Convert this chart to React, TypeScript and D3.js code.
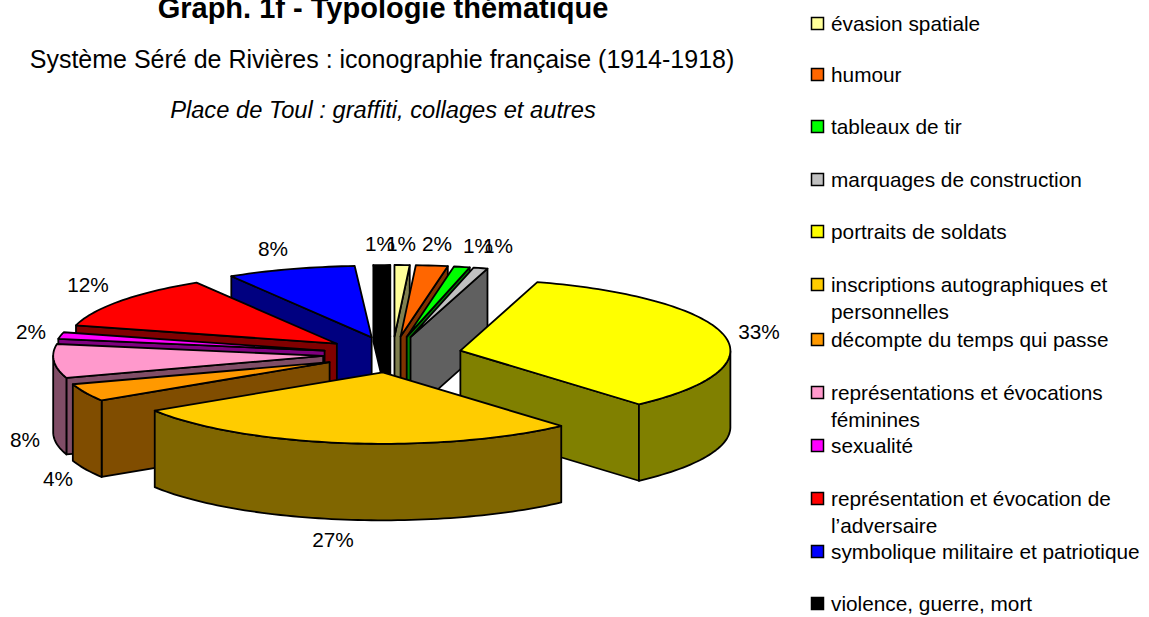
import React from "react";
import * as d3 from "d3";

const categories = ["évasion spatiale","humour","tableaux de tir","marquages de construction","portraits de soldats","inscriptions autographiques et personnelles","décompte du temps qui passe","représentations et évocations féminines","sexualité","représentation et évocation de l’adversaire","symbolique militaire et patriotique","violence, guerre, mort"];
const values = [0.9,1.9,0.95,0.85,33.9,27.5,4,7.65,1.5,12.15,7.7,1];
const percentLabels = ["1%","2%","1%","1%","33%","27%","4%","8%","2%","12%","8%","1%"];
const topColors = ["#ffff99","#ff6600","#00ff00","#c0c0c0","#ffff00","#ffcc00","#ff9900","#ff99cc","#ff00ff","#ff0000","#0000ff","#000000"];
const sideColors = ["#808050","#803300","#008000","#606060","#808000","#806600","#804d00","#804d66","#800080","#800000","#000080","#000000"];
const legendLines = [["évasion spatiale"],["humour"],["tableaux de tir"],["marquages de construction"],["portraits de soldats"],["inscriptions autographiques et","personnelles"],["décompte du temps qui passe"],["représentations et évocations","féminines"],["sexualité"],["représentation et évocation de","l’adversaire"],["symbolique militaire et patriotique"],["violence, guerre, mort"]];
const legendBaselines = [31,82,134,187,239,292,347,400,453,506,559,611];
const labelAnchors: [number,number][] = [[401,251],[437,251],[478,253],[498,253],[759,339],[333,547],[58,486],[25,447],[31,339],[88,292],[273,256],[380,251]];

const W = 1149, H = 617;
const cx = 392.5, cy = 354.5, rx = 270, ry = 71.5, depth = 76.5, explodeX = 69.5, explodeY = 18;
const FONT = "'Liberation Sans', Arial, sans-serif";
const FS = 20.8;

type Pt = [number, number];
const lineGen = d3.line<Pt>().curve(d3.curveLinearClosed);
const pie = d3.pie<number>().sort(null).startAngle(0).endAngle(2 * Math.PI);

export default function App() {
  const arcs = pie(values);
  const slices = arcs.map((a, i) => {
    const mid = (a.startAngle + a.endAngle) / 2;
    const ax = cx + explodeX * Math.sin(mid), ay = cy - explodeY * Math.cos(mid);
    const at = (t: number): Pt => [ax + rx * Math.sin(t), ay - ry * Math.cos(t)];
    const ts = d3.range(0, 1.0001, 1 / Math.max(2, Math.ceil((a.endAngle - a.startAngle) * 40))).map(
      (f) => a.startAngle + f * (a.endAngle - a.startAngle));
    const down = (p: Pt): Pt => [p[0], p[1] + depth];
    const top: Pt[] = [[ax, ay], ...ts.map(at)];
    const sides: Pt[][] = [];
    if (Math.sin(a.startAngle) < 0) {
      const p = at(a.startAngle);
      sides.push([[ax, ay], p, down(p), [ax, ay + depth]]);
    }
    if (Math.sin(a.endAngle) > 0) {
      const p = at(a.endAngle);
      sides.push([[ax, ay], p, down(p), [ax, ay + depth]]);
    }
    const frontTs = ts.filter((t) => Math.cos(t) < 0);
    const front = frontTs.map(at);
    if (front.length > 1) sides.push([...front, ...front.slice().reverse().map(down)]);
    return { i, mid, top, sides };
  });
  const order = slices.slice().sort((p, q) => Math.cos(q.mid) - Math.cos(p.mid));

  return (
    <svg width={W} height={H} viewBox={`0 0 ${W} ${H}`} style={{ position: "absolute", left: 0, top: 0, background: "#fff" }} fontFamily={FONT} fontSize={FS}>
      <text x={383} y={18} textAnchor="middle" fontWeight="bold" fontSize={29}>Graph. 1f - Typologie thématique</text>
      <text x={382} y={68} textAnchor="middle" fontSize={25}>Système Séré de Rivières : iconographie française (1914-1918)</text>
      <text x={383} y={118} textAnchor="middle" fontStyle="italic" fontSize={23.7}>Place de Toul : graffiti, collages et autres</text>
      {order.map((s) => (
        <g key={s.i} stroke="#000" strokeWidth={1.8} strokeLinejoin="round">
          {s.sides.map((p, j) => <path key={j} d={lineGen(p) as string} fill={sideColors[s.i]} />)}
          <path d={lineGen(s.top) as string} fill={topColors[s.i]} />
        </g>
      ))}
      {percentLabels.map((t, i) => (
        <text key={i} x={labelAnchors[i][0]} y={labelAnchors[i][1]} textAnchor="middle" fill="#000">{t}</text>
      ))}
      {categories.map((c, i) => (
        <g key={c}>
          <rect x={811.5} y={legendBaselines[i] - 13.5} width={12} height={12} fill={topColors[i]} stroke="#000" strokeWidth={1.5} />
          {legendLines[i].map((t, j) => (
            <text key={j} x={831} y={legendBaselines[i] + j * 27} fill="#000">{t}</text>
          ))}
        </g>
      ))}
    </svg>
  );
}
